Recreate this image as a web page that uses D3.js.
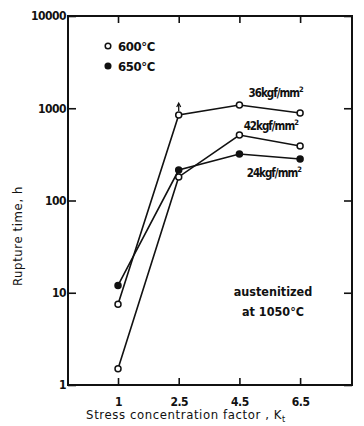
<!DOCTYPE html>
<html><head><meta charset="utf-8">
<script src="https://cdn.jsdelivr.net/npm/d3@7"></script>
<style>
body{margin:0;background:#fff;}
svg{display:block;}
text{font-family:'Liberation Sans Narrow','DejaVu Sans Condensed',sans-serif;fill:#111;}
</style></head>
<body>
<script>
const categories = ["1", "2.5", "4.5", "6.5"];
const yTicks = [1, 10, 100, 1000, 10000];
const yTickLabels = ["1", "10", "100", "1000", "10000"];
const s36_600 = [7.5, 845, 1085, 889];
const s42_600 = [1.5, 180, 513, 390];
const s24_650 = [12, 214, 319, 282];
const seriesLabels = ["36kgf/mm²", "42kgf/mm²", "24kgf/mm²"];
const legendLabels = ["600°C", "650°C"];

const W = 364, H = 426;
const L = 68, R = 352, T = 16, B = 385;

const svg = d3.select("body").append("svg").attr("width", W).attr("height", H);

const x = d3.scaleLinear().domain([-0.824, 3.855]).range([L, R]);
const y = d3.scaleLog().domain([1, 10000]).range([B, T]);

// frame
svg.append("rect").attr("x", L).attr("y", T).attr("width", R - L).attr("height", B - T)
  .attr("fill", "none").attr("stroke", "#111").attr("stroke-width", 2);

// axes with inward ticks
const idx = categories.map((c, i) => i);
svg.append("g").attr("transform", `translate(0,${B})`)
  .call(d3.axisBottom(x).tickValues(idx).tickFormat(i => categories[i]).tickSizeInner(-7).tickSizeOuter(0).tickPadding(12))
  .call(g => g.select(".domain").remove());
svg.append("g").attr("transform", `translate(0,${T})`)
  .call(d3.axisTop(x).tickValues(idx).tickFormat("").tickSizeInner(-7).tickSizeOuter(0))
  .call(g => g.select(".domain").remove());
svg.append("g").attr("transform", `translate(${L},0)`)
  .call(d3.axisLeft(y).tickValues(yTicks).tickFormat((d, i) => yTickLabels[i]).tickSizeInner(-8).tickSizeOuter(0).tickPadding(2))
  .call(g => g.select(".domain").remove());
svg.append("g").attr("transform", `translate(${R},0)`)
  .call(d3.axisRight(y).tickValues(yTicks).tickFormat("").tickSizeInner(-8).tickSizeOuter(0))
  .call(g => g.select(".domain").remove());

svg.selectAll(".tick line").attr("stroke", "#111").attr("stroke-width", 1.6);
svg.selectAll(".tick text").attr("font-size", 12).attr("font-weight", "bold").attr("letter-spacing", -0.5)
  .attr("font-family", "'Liberation Sans Narrow','DejaVu Sans Condensed',sans-serif").attr("fill", "#111");

// series
const series = [
  {vals: s36_600, filled: false},
  {vals: s42_600, filled: false},
  {vals: s24_650, filled: true}
];
const line = d3.line().x((d, i) => x(i)).y(d => y(d));
series.forEach(s => {
  svg.append("path").attr("d", line(s.vals)).attr("fill", "none")
    .attr("stroke", "#111").attr("stroke-width", 1.6);
});
series.forEach(s => {
  svg.selectAll(null).data(s.vals).enter().append("circle")
    .attr("cx", (d, i) => x(i)).attr("cy", d => y(d)).attr("r", 3)
    .attr("fill", s.filled ? "#111" : "#fff").attr("stroke", "#111").attr("stroke-width", 1.5);
});

// small upward arrow above 36 kgf point at K=2.5
{
  const ax = x(1), ay = y(s36_600[1]);
  svg.append("line").attr("x1", ax).attr("x2", ax).attr("y1", ay - 4).attr("y2", ay - 11)
    .attr("stroke", "#111").attr("stroke-width", 1.3);
  svg.append("path").attr("d", `M${ax - 2},${ay - 8} L${ax},${ay - 12} L${ax + 2},${ay - 8}`)
    .attr("fill", "none").attr("stroke", "#111").attr("stroke-width", 1.2);
}

// series labels
const lab = [
  {t: seriesLabels[0], xi: 2.15, v: s36_600[2], dy: -8},
  {t: seriesLabels[1], xi: 2.07, v: s42_600[2], dy: -5},
  {t: seriesLabels[2], xi: 2.12, v: s24_650[2], dy: 23}
];
lab.forEach(l => {
  const t = svg.append("text").attr("x", x(l.xi)).attr("y", y(l.v) + l.dy)
    .attr("font-size", 11.5).attr("font-weight", "bold").attr("letter-spacing", -1);
  const base = l.t.replace("²", "");
  t.append("tspan").text(base);
  t.append("tspan").attr("dy", -5).attr("font-size", 7.5).text("2");
});

// legend
legendLabels.forEach((lbl, i) => {
  const ly = 46 + i * 20;
  svg.append("circle").attr("cx", 108).attr("cy", ly).attr("r", 2.8)
    .attr("fill", i === 1 ? "#111" : "#fff").attr("stroke", "#111").attr("stroke-width", 1.5);
  svg.append("text").attr("x", 118).attr("y", ly + 5).attr("font-size", 13)
    .attr("font-weight", "bold").attr("letter-spacing", -0.4).text(lbl);
});

// annotation
svg.append("text").attr("x", 273).attr("y", 296).attr("text-anchor", "middle")
  .attr("font-size", 12.5).attr("font-weight", "bold").text("austenitized");
svg.append("text").attr("x", 273).attr("y", 316).attr("text-anchor", "middle")
  .attr("font-size", 12.5).attr("font-weight", "bold").text("at 1050°C");

// axis titles
const xt = svg.append("text").attr("x", 186).attr("y", 419).attr("text-anchor", "middle")
  .attr("font-size", 13).attr("letter-spacing", 0.6);
xt.append("tspan").text("Stress concentration factor , K");
xt.append("tspan").attr("dy", 3).attr("font-size", 9).text("t");

svg.append("text").attr("transform", "translate(22,236) rotate(-90)")
  .attr("text-anchor", "middle").attr("font-size", 13).attr("letter-spacing", 0.6)
  .text("Rupture time, h");
</script>
</body></html>
